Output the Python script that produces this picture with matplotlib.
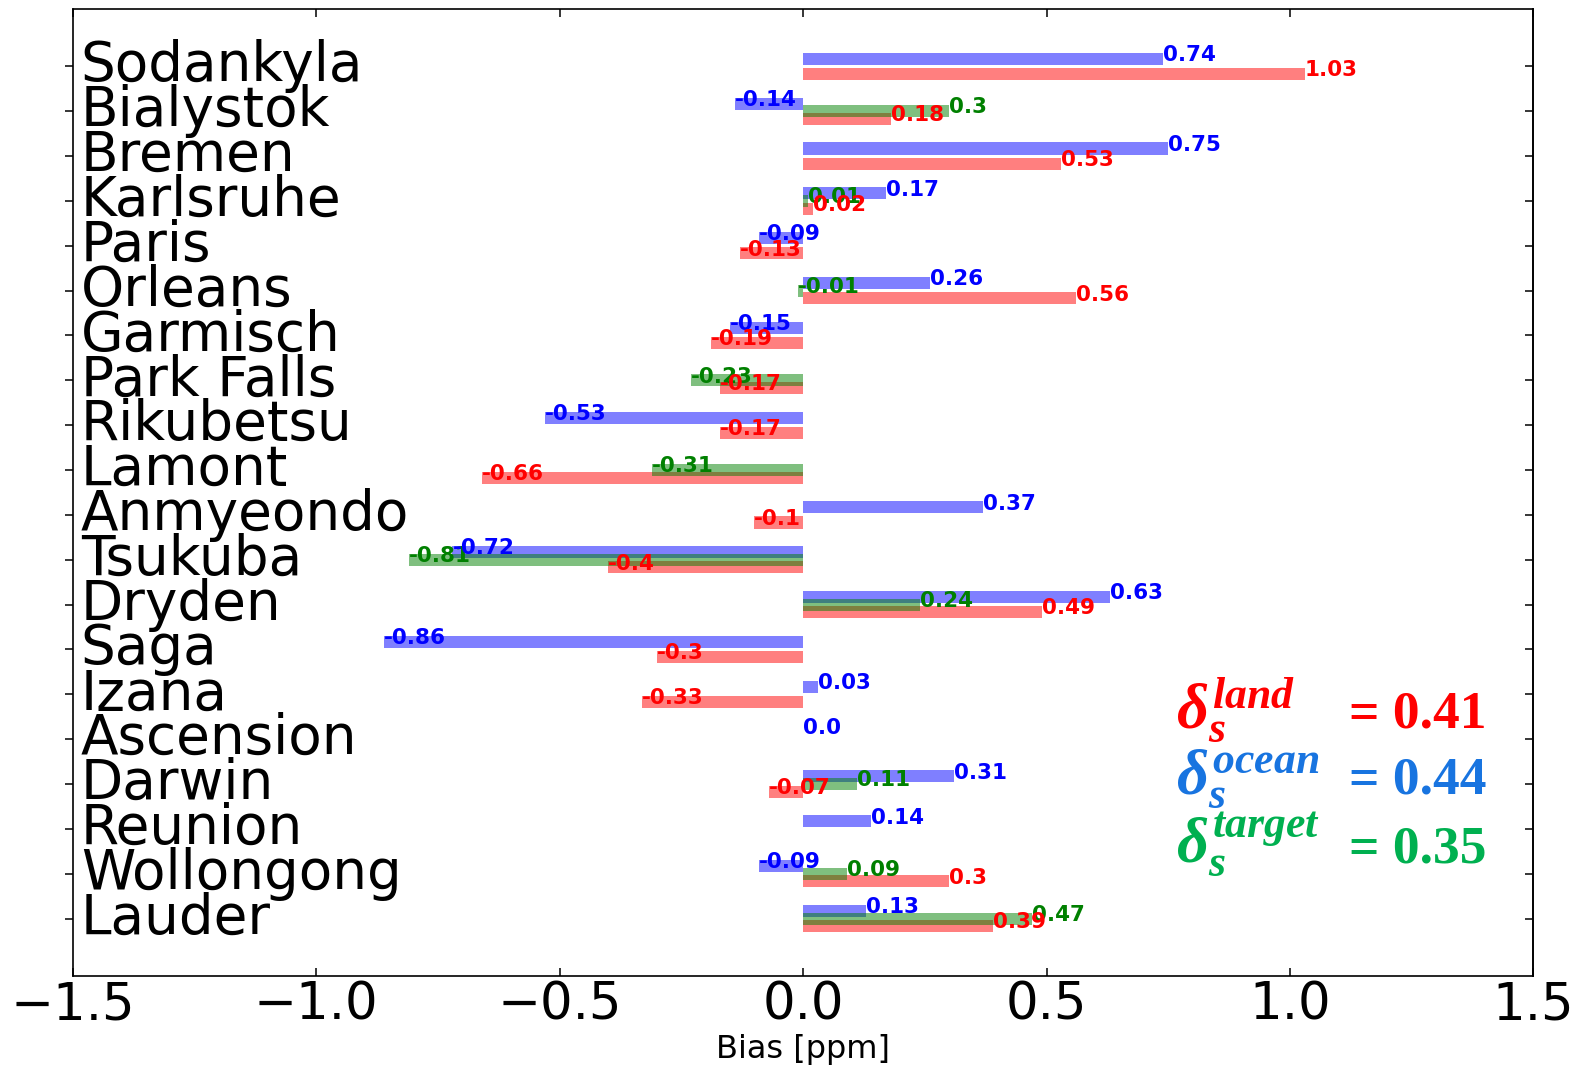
import numpy as np
import matplotlib.pyplot as plt

# dados (de cima para baixo)
estacoes = ['Sodankyla', 'Bialystok', 'Bremen', 'Karlsruhe', 'Paris', 'Orleans',
            'Garmisch', 'Park Falls', 'Rikubetsu', 'Lamont', 'Anmyeondo', 'Tsukuba',
            'Dryden', 'Saga', 'Izana', 'Ascension', 'Darwin', 'Reunion',
            'Wollongong', 'Lauder']
nan = np.nan
ocean = [0.74, -0.14, 0.75, 0.17, -0.09, 0.26, -0.15, nan, -0.53, nan,
         0.37, -0.72, 0.63, -0.86, 0.03, 0.0, 0.31, 0.14, -0.09, 0.13]
land = [1.03, 0.18, 0.53, 0.02, -0.13, 0.56, -0.19, -0.17, -0.17, -0.66,
        -0.1, -0.4, 0.49, -0.3, -0.33, nan, -0.07, nan, 0.3, 0.39]
target = [nan, 0.3, nan, 0.01, nan, -0.01, nan, -0.23, nan, -0.31,
          nan, -0.81, 0.24, nan, nan, nan, 0.11, nan, 0.09, 0.47]

# resumo (delta_s)
resumo_nomes = [r'$\delta_s^{land}$', r'$\delta_s^{ocean}$', r'$\delta_s^{target}$']
resumo_valores = [0.41, 0.44, 0.35]
resumo_cores = ['#ff0000', '#1874e0', '#00b050']

xticks = [-1.5, -1.0, -0.5, 0.0, 0.5, 1.0, 1.5]

plt.rcParams['mathtext.fontset'] = 'custom'
plt.rcParams['mathtext.it'] = 'Liberation Serif:bold:italic'
plt.rcParams['mathtext.rm'] = 'Liberation Serif:bold'
plt.rcParams['mathtext.bf'] = 'Liberation Serif:bold'

fig = plt.figure(figsize=(15.83, 10.66), dpi=100)
ax = fig.add_axes([0.0459, 0.0844, 0.9228, 0.9072])

pos = np.arange(len(estacoes))
altura = 0.27
desloc = 0.17

# barras
ax.barh(pos - desloc, ocean, height=altura, color='blue', alpha=0.5)
ax.barh(pos + desloc, land, height=altura, color='red', alpha=0.5)
ax.barh(pos, target, height=altura, color='green', alpha=0.5)

# valores nas pontas das barras
for serie, off, cor in [(target, 0.0, 'green'), (ocean, -desloc, 'blue'), (land, desloc, 'red')]:
    for i, valor in enumerate(serie):
        if np.isnan(valor):
            continue
        ax.text(valor, i + off + 0.05, f'{valor}', color=cor, fontsize=15.5,
                fontweight='bold', ha='left', va='baseline')

# resumo no canto inferior direito
linhas_y = [14.75, 16.2, 17.75]
for nome, valor, cor, y in zip(resumo_nomes, resumo_valores, resumo_cores, linhas_y):
    ax.text(0.765, y, nome, color=cor, fontsize=45, ha='left', va='baseline')
    ax.text(1.122, y, f'= {valor}', color=cor, fontsize=38.5, ha='left', va='baseline',
            family='Liberation Serif', fontweight='bold')

ax.set_xlim(-1.5, 1.5)
ax.set_ylim(len(estacoes) - 1 + 1.28, -1.28)
ax.set_xticks(xticks)
ax.set_yticks(pos)
ax.set_yticklabels(estacoes, ha='left', va='center')

ax.tick_params(axis='x', direction='in', top=True, length=6, width=1.1,
               labelsize=37, pad=3)
ax.tick_params(axis='y', direction='out', right=False, length=6, width=1.1,
               labelsize=39.5, pad=-11.8)

# ticks para dentro no lado direito
ax_dir = ax.secondary_yaxis('right')
ax_dir.set_yticks(pos)
ax_dir.tick_params(direction='in', length=6, width=1.1, labelright=False)

for sp in ax.spines.values():
    sp.set_linewidth(1.2)
ax_dir.spines['right'].set_linewidth(1.2)

ax.set_xlabel('Bias [ppm]', fontsize=23, labelpad=3)

plt.savefig('out.png', dpi=100)
